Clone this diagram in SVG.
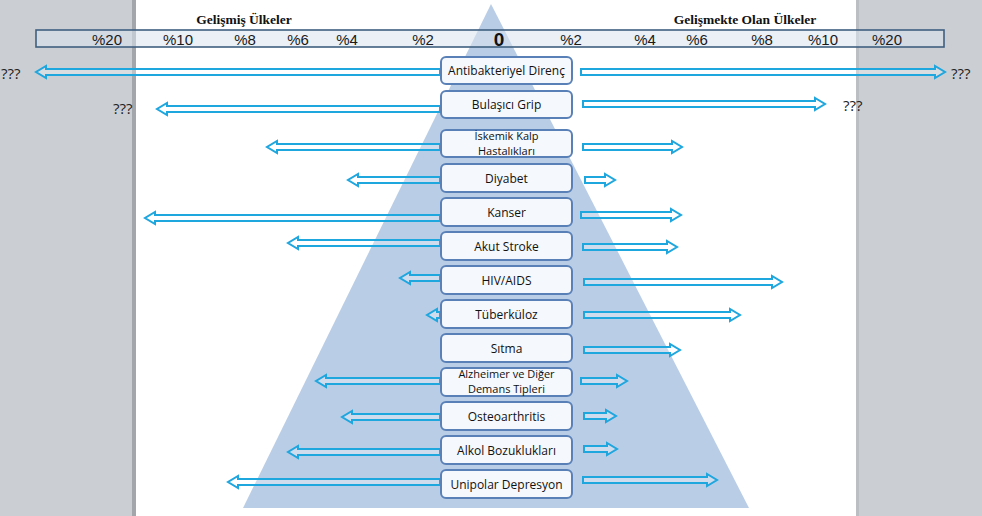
<svg xmlns="http://www.w3.org/2000/svg" width="982" height="516" viewBox="0 0 982 516">
<style>
.bg{fill:#ffffff}
.side{fill:#cbced3}
.edge{fill:#a3a7ac}
.pyr{fill:#bacde6}
.bar{fill:#dbe3ee;fill-opacity:0.55;stroke:#3f5f80;stroke-width:1.6}
.sc{font-family:"Liberation Sans",Arial,sans-serif;font-size:15px;fill:#1a1a1a;text-anchor:middle}
.zero{font-family:"Liberation Sans",Arial,sans-serif;font-size:19px;font-weight:bold;fill:#111;text-anchor:middle}
.ttl{font-family:"Liberation Serif","Times New Roman",serif;font-size:13.5px;font-weight:bold;fill:#111;text-anchor:middle}
.q{font-family:"Open Sans","Liberation Sans",sans-serif;font-size:15px;fill:#222}
.box{fill:#f5f8fc;stroke:#5a80b8;stroke-width:2}
.lbl{font-family:"Open Sans","Liberation Sans",sans-serif;font-size:12px;fill:#111;text-anchor:middle}
.lbl2{font-family:"Open Sans","Liberation Sans",sans-serif;font-size:11px;fill:#111;text-anchor:middle}
.arr{fill:#ffffff;fill-opacity:0.3;stroke:#1ea6df;stroke-width:2;stroke-linejoin:miter}
</style>
<rect class="bg" x="0" y="0" width="982" height="516"/>
<rect class="side" x="0" y="0" width="136" height="516"/>
<rect class="edge" x="132" y="0" width="4" height="516"/>
<rect class="side" x="856" y="0" width="126" height="516"/>
<rect class="edge" x="856" y="0" width="3" height="516" fill-opacity="0.4"/>
<polygon class="pyr" points="491,4 749,508 243,508"/>
<g id="scale">
<rect class="bar" x="36" y="30" width="908" height="17"/>
<text class="ttl" x="244" y="24">Gelişmiş Ülkeler</text>
<text class="ttl" x="745" y="24">Gelişmekte Olan Ülkeler</text>
<text class="sc" x="107" y="45">%20</text>
<text class="sc" x="178" y="45">%10</text>
<text class="sc" x="245" y="45">%8</text>
<text class="sc" x="298" y="45">%6</text>
<text class="sc" x="347" y="45">%4</text>
<text class="sc" x="423" y="45">%2</text>
<text class="zero" x="499" y="46">0</text>
<text class="sc" x="571" y="45">%2</text>
<text class="sc" x="645" y="45">%4</text>
<text class="sc" x="697" y="45">%6</text>
<text class="sc" x="762" y="45">%8</text>
<text class="sc" x="823" y="45">%10</text>
<text class="sc" x="887" y="45">%20</text>
</g>
<g id="connectors">
<path class="arr" d="M440,69 H46 V66 L36,72 L46,78 V75 H440 Z"/>
<path class="arr" d="M581,69 H935 V66 L945,72 L935,78 V75 H581 Z"/>
<path class="arr" d="M440,106 H167 V103 L157,109 L167,115 V112 H440 Z"/>
<path class="arr" d="M583,101 H815 V98 L825,104 L815,110 V107 H583 Z"/>
<path class="arr" d="M440,144 H277 V141 L267,147 L277,153 V150 H440 Z"/>
<path class="arr" d="M583,144 H672 V141 L682,147 L672,153 V150 H583 Z"/>
<path class="arr" d="M440,177 H358 V174 L348,180 L358,186 V183 H440 Z"/>
<path class="arr" d="M585,177 H605 V174 L615,180 L605,186 V183 H585 Z"/>
<path class="arr" d="M440,215 H155 V212 L145,218 L155,224 V221 H440 Z"/>
<path class="arr" d="M581,212 H671 V209 L681,215 L671,221 V218 H581 Z"/>
<path class="arr" d="M440,240 H298 V237 L288,243 L298,249 V246 H440 Z"/>
<path class="arr" d="M583,244 H667 V241 L677,247 L667,253 V250 H583 Z"/>
<path class="arr" d="M440,275 H410 V272 L400,278 L410,284 V281 H440 Z"/>
<path class="arr" d="M584,279 H772 V276 L782,282 L772,288 V285 H584 Z"/>
<path class="arr" d="M440,312 H437 V309 L427,315 L437,321 V318 H440 Z"/>
<path class="arr" d="M584,312 H730 V309 L740,315 L730,321 V318 H584 Z"/>
<path class="arr" d="M584,347 H670 V344 L680,350 L670,356 V353 H584 Z"/>
<path class="arr" d="M440,378 H326 V375 L316,381 L326,387 V384 H440 Z"/>
<path class="arr" d="M581,378 H617 V375 L627,381 L617,387 V384 H581 Z"/>
<path class="arr" d="M440,414 H352 V411 L342,417 L352,423 V420 H440 Z"/>
<path class="arr" d="M584,413 H606 V410 L616,416 L606,422 V419 H584 Z"/>
<path class="arr" d="M440,449 H298 V446 L288,452 L298,458 V455 H440 Z"/>
<path class="arr" d="M584,446 H607 V443 L617,449 L607,455 V452 H584 Z"/>
<path class="arr" d="M440,479 H238 V476 L228,482 L238,488 V485 H440 Z"/>
<path class="arr" d="M583,477 H707 V474 L717,480 L707,486 V483 H583 Z"/>
</g>
<g id="qmarks">
<text class="q" x="1" y="79">???</text>
<text class="q" x="113" y="114">???</text>
<text class="q" x="951" y="79">???</text>
<text class="q" x="843" y="111">???</text>
</g>
<g id="n1"><rect class="box" x="441" y="57" width="131" height="27" rx="5"/><text class="lbl" x="506.5" y="75">Antibakteriyel Direnç</text></g>
<g id="n2"><rect class="box" x="441" y="91" width="131" height="27" rx="5"/><text class="lbl" x="506.5" y="109">Bulaşıcı Grip</text></g>
<g id="n3"><rect class="box" x="441" y="130" width="131" height="27" rx="5"/><text class="lbl2" x="506.5" y="140">İskemik Kalp</text><text class="lbl2" x="506.5" y="155">Hastalıkları</text></g>
<g id="n4"><rect class="box" x="441" y="164" width="131" height="28" rx="5"/><text class="lbl" x="506.5" y="183">Diyabet</text></g>
<g id="n5"><rect class="box" x="441" y="198" width="131" height="28" rx="5"/><text class="lbl" x="506.5" y="217">Kanser</text></g>
<g id="n6"><rect class="box" x="441" y="232" width="131" height="28" rx="5"/><text class="lbl" x="506.5" y="251">Akut Stroke</text></g>
<g id="n7"><rect class="box" x="441" y="266" width="131" height="28" rx="5"/><text class="lbl" x="506.5" y="285">HIV/AIDS</text></g>
<g id="n8"><rect class="box" x="441" y="300" width="131" height="28" rx="5"/><text class="lbl" x="506.5" y="319">Tüberküloz</text></g>
<g id="n9"><rect class="box" x="441" y="334" width="131" height="28" rx="5"/><text class="lbl" x="506.5" y="353">Sıtma</text></g>
<g id="n10"><rect class="box" x="441" y="368" width="131" height="28" rx="5"/><text class="lbl2" x="506.5" y="378">Alzheimer ve Diğer</text><text class="lbl2" x="506.5" y="393">Demans Tipleri</text></g>
<g id="n11"><rect class="box" x="441" y="402" width="131" height="28" rx="5"/><text class="lbl" x="506.5" y="421">Osteoarthritis</text></g>
<g id="n12"><rect class="box" x="441" y="436" width="131" height="28" rx="5"/><text class="lbl" x="506.5" y="455">Alkol Bozuklukları</text></g>
<g id="n13"><rect class="box" x="441" y="470" width="131" height="28" rx="5"/><text class="lbl" x="506.5" y="489">Unipolar Depresyon</text></g>
</svg>
